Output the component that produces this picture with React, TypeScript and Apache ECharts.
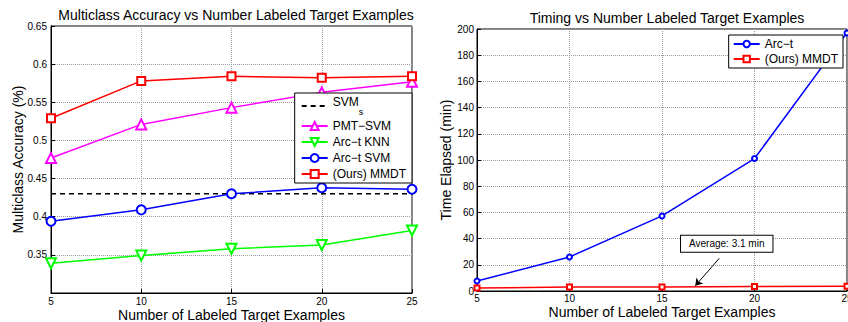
import React, { useEffect, useRef } from 'react';
import * as echarts from 'echarts';

// ---------- data ----------
const labeledExamples = [5, 10, 15, 20, 25];
const svmSourceAcc = [0.43, 0.43, 0.43, 0.43, 0.43];
const pmtSvmAcc = [0.477, 0.521, 0.543, 0.563, 0.577];
const arcKnnAcc = [0.339, 0.349, 0.358, 0.363, 0.382];
const arcSvmAcc = [0.394, 0.409, 0.43, 0.438, 0.436];
const mmdtAcc = [0.529, 0.578, 0.584, 0.582, 0.584];

const arcTime = [7.6, 26, 57.3, 101.1, 197];
const mmdtTime = [2.3, 3.0, 3.1, 3.5, 3.6];

const avgNote = 'Average: 3.1 min';
const noteBoxAt = [18.5, 36];
const noteArrowFrom = [18.1, 25];
const noteArrowTo = [16.8, 4];

const FONT = '"Liberation Sans", Arial, Helvetica, sans-serif';

const pair = (ys: number[]) => labeledExamples.map((x, i) => [x, ys[i]]);

const axisCommon = {
  nameMoveOverlap: false,
  axisLine: { show: true, lineStyle: { color: '#000', width: 1 } },
  axisTick: { show: true, inside: true, length: 4, lineStyle: { color: '#000' } },
  axisLabel: { fontSize: 10, color: '#000', fontFamily: FONT },
  splitLine: { show: true, lineStyle: { type: 'dotted', color: '#999', width: 1 } },
  nameTextStyle: { fontSize: 14, color: '#000', fontFamily: FONT },
};

function leftOption(): any {
  return {
    animation: false,
    textStyle: { fontFamily: FONT },
    title: {
      text: 'Multiclass Accuracy vs Number Labeled Target Examples',
      left: 231,
      textAlign: 'center',
      top: 3,
      textStyle: { fontSize: 14, fontWeight: 'normal', color: '#000', fontFamily: FONT },
    },
    grid: {
      left: 51, right: 12, top: 26, bottom: 29,
      outerBoundsMode: 'none', containLabel: false,
      show: true, borderColor: '#000', borderWidth: 1,
    },
    xAxis: {
      ...axisCommon,
      type: 'value',
      min: 5,
      max: 25,
      interval: 5,
      name: 'Number of Labeled Target Examples',
      nameLocation: 'middle',
      nameGap: 15,
      axisLabel: { ...axisCommon.axisLabel, margin: 3 },
    },
    yAxis: {
      ...axisCommon,
      type: 'value',
      min: 0.3,
      max: 0.65,
      interval: 0.05,
      name: 'Multiclass Accuracy (%)',
      nameLocation: 'middle',
      nameGap: 26,
      axisLabel: { ...axisCommon.axisLabel, showMinLabel: false, margin: 4 },
    },
    legend: {
      orient: 'vertical',
      right: 12,
      top: 93,
      backgroundColor: '#fff',
      borderColor: '#000',
      borderWidth: 1,
      borderRadius: 0,
      padding: [3, 6, 3, 6],
      itemWidth: 26,
      itemHeight: 10,
      itemGap: 4,
      data: [
        { name: 'SVMs', itemStyle: { color: 'rgba(0,0,0,0)', borderColor: 'rgba(0,0,0,0)', borderWidth: 0 } },
        'PMT−SVM',
        'Arc−t KNN',
        'Arc−t SVM',
        '(Ours) MMDT',
      ],
      formatter: (name: string) => (name === 'SVMs' ? '{a|SVM}{b|s}' : name),
      textStyle: {
        fontSize: 12,
        color: '#000',
        fontFamily: FONT,
        rich: {
          a: { fontSize: 12, color: '#000', fontFamily: FONT, lineHeight: 20, verticalAlign: 'top' },
          b: { fontSize: 9, color: '#000', fontFamily: FONT, lineHeight: 20, verticalAlign: 'bottom' },
        },
      },
    },
    series: [
      {
        name: 'SVMs',
        type: 'line',
        data: pair(svmSourceAcc),
        symbol: 'none',
        lineStyle: { color: '#000', width: 1.5, type: [5, 4] },
        itemStyle: { color: '#000' },
      },
      {
        name: 'PMT−SVM',
        type: 'line',
        data: pair(pmtSvmAcc),
        symbol: 'emptyTriangle',
        symbolSize: 10,
        lineStyle: { color: '#ff00ff', width: 1.5 },
        itemStyle: { color: '#ff00ff', borderWidth: 1.5 },
      },
      {
        name: 'Arc−t KNN',
        type: 'line',
        data: pair(arcKnnAcc),
        symbol: 'emptyTriangle',
        symbolRotate: 180,
        symbolSize: 10,
        lineStyle: { color: '#00ff00', width: 1.5 },
        itemStyle: { color: '#00ff00', borderWidth: 1.5 },
      },
      {
        name: 'Arc−t SVM',
        type: 'line',
        data: pair(arcSvmAcc),
        symbol: 'emptyCircle',
        symbolSize: 9,
        lineStyle: { color: '#0000ff', width: 1.5 },
        itemStyle: { color: '#0000ff', borderWidth: 1.5 },
      },
      {
        name: '(Ours) MMDT',
        type: 'line',
        data: pair(mmdtAcc),
        symbol: 'emptyRect',
        symbolSize: 8,
        lineStyle: { color: '#ff0000', width: 1.5 },
        itemStyle: { color: '#ff0000', borderWidth: 1.5 },
      },
    ],
  };
}

function rightOption(): any {
  return {
    animation: false,
    textStyle: { fontFamily: FONT },
    title: {
      text: 'Timing vs Number Labeled Target Examples',
      left: 238,
      textAlign: 'center',
      top: 6,
      textStyle: { fontSize: 14, fontWeight: 'normal', color: '#000', fontFamily: FONT },
    },
    grid: {
      left: 53, right: 1, top: 29, bottom: 31,
      outerBoundsMode: 'none', containLabel: false,
      show: true, borderColor: '#000', borderWidth: 1,
    },
    xAxis: {
      ...axisCommon,
      type: 'value',
      min: 5,
      max: 25,
      interval: 5,
      name: 'Number of Labeled Target Examples',
      nameLocation: 'middle',
      nameGap: 14,
      axisLabel: { ...axisCommon.axisLabel, margin: 2 },
    },
    yAxis: {
      ...axisCommon,
      type: 'value',
      min: 0,
      max: 200,
      interval: 20,
      name: 'Time Elapsed (min)',
      nameLocation: 'middle',
      nameGap: 24,
      axisLabel: { ...axisCommon.axisLabel, margin: 3 },
    },
    legend: {
      orient: 'vertical',
      right: 5,
      top: 35,
      backgroundColor: '#fff',
      borderColor: '#000',
      borderWidth: 1,
      borderRadius: 0,
      padding: [3, 5, 3, 4],
      itemWidth: 26,
      itemHeight: 8,
      itemGap: 3,
      data: ['Arc−t', '(Ours) MMDT'],
      textStyle: { fontSize: 12, color: '#000', fontFamily: FONT },
    },
    series: [
      {
        name: 'Arc−t',
        type: 'line',
        data: pair(arcTime),
        symbol: 'emptyCircle',
        symbolSize: 5,
        lineStyle: { color: '#0000ff', width: 1.5 },
        itemStyle: { color: '#0000ff', borderWidth: 1.5 },
      },
      {
        name: '(Ours) MMDT',
        type: 'line',
        data: pair(mmdtTime),
        symbol: 'emptyRect',
        symbolSize: 5,
        lineStyle: { color: '#ff0000', width: 1.5 },
        itemStyle: { color: '#ff0000', borderWidth: 1.5 },
        markLine: {
          silent: true,
          symbol: ['none', 'arrow'],
          symbolSize: 7,
          label: { show: false },
          lineStyle: { color: '#000', width: 1, type: 'solid' },
          data: [[{ coord: noteArrowFrom }, { coord: noteArrowTo }]],
        },
        markPoint: {
          silent: true,
          symbol: 'rect',
          symbolSize: 1,
          itemStyle: { color: 'rgba(0,0,0,0)' },
          label: {
            show: true,
            position: 'inside',
            formatter: avgNote,
            backgroundColor: '#fff',
            borderColor: '#000',
            borderWidth: 1,
            padding: [3, 8],
            fontSize: 10,
            color: '#000',
            fontFamily: FONT,
          },
          data: [{ coord: noteBoxAt }],
        },
      },
    ],
  };
}

export default function App() {
  const leftRef = useRef<HTMLDivElement>(null);
  const rightRef = useRef<HTMLDivElement>(null);

  useEffect(() => {
    const l = echarts.init(leftRef.current!, undefined, { renderer: 'svg' });
    const r = echarts.init(rightRef.current!, undefined, { renderer: 'svg' });
    l.setOption(leftOption());
    r.setOption(rightOption());
    return () => {
      l.dispose();
      r.dispose();
    };
  }, []);

  return (
    <div style={{ position: 'fixed', left: 0, top: 0, width: 848, height: 322, background: '#fff' }}>
      <div ref={leftRef} style={{ position: 'absolute', left: 0, top: 0, width: 424, height: 322 }} />
      <div ref={rightRef} style={{ position: 'absolute', left: 424, top: 0, width: 424, height: 322 }} />
    </div>
  );
}
